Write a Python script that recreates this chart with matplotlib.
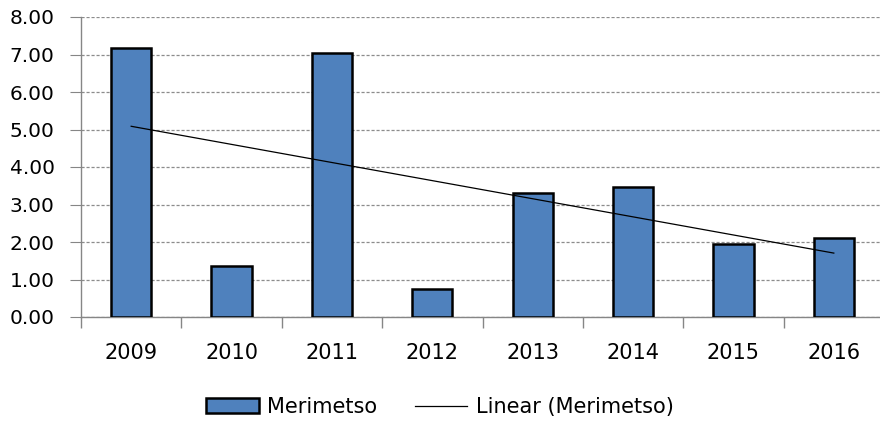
import numpy as np
import matplotlib.pyplot as plt
from matplotlib.ticker import FixedLocator, FormatStrFormatter

# values
years = ['2009', '2010', '2011', '2012', '2013', '2014', '2015', '2016']
merimetso = [7.17, 1.37, 7.03, 0.75, 3.30, 3.47, 1.95, 2.12]

plt.rcParams['font.family'] = ['DejaVu Sans']

fig = plt.figure(figsize=(8.8, 4.26), dpi=100)
ax = fig.add_axes([81/880, 109/426, 803/880, 300/426])

x = np.arange(len(years))
bars = ax.bar(x, merimetso, width=0.4, color='#4F81BD', edgecolor='black',
              linewidth=1.8, label='Merimetso', zorder=3)

# linear trendline like excel
k, b = np.polyfit(x, merimetso, 1)
trend, = ax.plot(x, k * x + b, color='black', linewidth=0.9,
                 label='Linear (Merimetso)', zorder=4)

ax.set_xlim(-0.5, len(years) - 0.5)
ax.set_ylim(0, 8)
ax.set_yticks(np.arange(0, 9, 1))
ax.yaxis.set_major_formatter(FormatStrFormatter('%.2f'))
ax.set_xticks(x)
ax.set_xticklabels(years)
ax.xaxis.set_minor_locator(FixedLocator(np.arange(-0.5, len(years), 1)))

ax.grid(axis='y', color='#8c8c8c', linestyle=(0, (2.5, 1.5)), linewidth=0.9, zorder=0)
for s in ['top', 'right']:
    ax.spines[s].set_visible(False)
for s in ['left', 'bottom']:
    ax.spines[s].set_color('#868686')
    ax.spines[s].set_linewidth(1.0)

ax.tick_params(axis='y', which='major', length=8, color='#868686', labelsize=14.5, pad=11)
ax.tick_params(axis='x', which='major', length=0, labelsize=15, pad=18.5)
ax.tick_params(axis='x', which='minor', length=8, color='#868686', width=1.0)

fig.legend(handles=[bars, trend], loc='center', bbox_to_anchor=(0.5, 19/426),
           ncol=2, frameon=False, fontsize=15, handlelength=2.5, handleheight=0.7,
           columnspacing=1.8, handletextpad=0.42)

fig.savefig('out.png', dpi=100)
